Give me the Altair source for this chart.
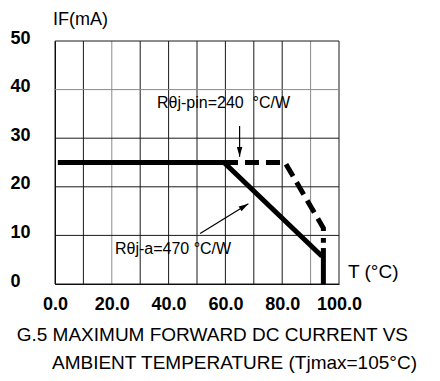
import math
import altair as alt
import pandas as pd

# ---- data ----
temp_ticks = [0, 10, 20, 30, 40, 50, 60, 70, 80, 90, 100]
current_ticks = [0, 10, 20, 30, 40, 50]
light_temp_lines = [20, 90]
light_current_lines = [40]

# R theta j-a = 470 C/W (solid)
solid_x = [1, 59.5, 94]
solid_y = [25, 25, 5.7]
solid_drop_x = [94.5, 94.5]
solid_drop_y = [7.4, 0]

# R theta j-pin = 240 C/W (dashed)
dash_x = [59.5, 81, 94.5, 94.5]
dash_y = [25, 25, 11.5, 8.5]

# annotation arrows: shaft start -> tip
arrow_name = ["pin", "a"]
arrow_x0 = [65, 51.1]
arrow_y0 = [32.5, 10.4]
arrow_x1 = [65, 68.1]
arrow_y1 = [26.2, 16.5]

ann_text = ["R\u03b8j-pin=240\u00a0 \u00b0C/W", "R\u03b8j-a=470\u00a0\u00b0C/W"]
ann_x = [35.9, 21.1]
ann_y = [37.2, 7.2]

y_title = "IF(mA)"
x_title = "T (\u00b0C)"
caption1 = "G.5 MAXIMUM FORWARD DC CURRENT VS"
caption2 = "AMBIENT TEMPERATURE (Tjmax=105\u00b0C)"

W, H = 284, 243
FONT = "Liberation Sans"

xs = alt.Scale(domain=[0, 100], nice=False, zero=False)
ys = alt.Scale(domain=[0, 50], nice=False, zero=False)

x_axis = alt.Axis(
    values=temp_ticks,
    labelExpr="datum.value % 20 == 0 ? format(datum.value, '.1f') : ''",
    title=None, grid=False,
    ticks=False, domainColor="black", domainWidth=1,
    labelFont=FONT, labelFontSize=18, labelFontWeight="bold", labelColor="black",
    labelPadding=11, labelOverlap=False, labelFlush=False,
)
y_axis = alt.Axis(
    values=current_ticks, format="d",
    title=None, grid=False,
    ticks=False, domainColor="black", domainWidth=1,
    labelFont=FONT, labelFontSize=18, labelFontWeight="bold", labelColor="black",
    labelAlign="left", labelBaseline="middle", labelPadding=45, labelOffset=-3,
    labelOverlap=False, labelFlush=False,
)

solid_df = pd.DataFrame({"x": solid_x, "y": solid_y, "o": range(len(solid_x))})
drop_df = pd.DataFrame({"x": solid_drop_x, "y": solid_drop_y, "o": range(len(solid_drop_x))})
dash_df = pd.DataFrame({"x": dash_x, "y": dash_y, "o": range(len(dash_x))})

# grid lines
vgrid_df = pd.DataFrame({"x": temp_ticks,
                         "c": ["light" if v in light_temp_lines else "dark" for v in temp_ticks]})
hgrid_df = pd.DataFrame({"y": current_ticks,
                         "c": ["light" if v in light_current_lines else "dark" for v in current_ticks]})
gcolor = alt.Color("c:N", scale=alt.Scale(domain=["dark", "light"], range=["#1a1a1a", "#8a8a8a"]),
                   legend=None)
vgrid = alt.Chart(vgrid_df).mark_rule(strokeWidth=1).encode(
    x=alt.X("x:Q", scale=xs, axis=x_axis), color=gcolor)
hgrid = alt.Chart(hgrid_df).mark_rule(strokeWidth=1).encode(
    y=alt.Y("y:Q", scale=ys, axis=y_axis), color=gcolor)

dashed = alt.Chart(dash_df).mark_line(
    color="black", strokeWidth=5, strokeDash=[14, 7], strokeCap="butt", strokeJoin="miter"
).encode(x=alt.X("x:Q", scale=xs), y=alt.Y("y:Q", scale=ys), order="o:Q")

solid = alt.Chart(solid_df).mark_line(
    color="black", strokeWidth=5, strokeCap="butt", strokeJoin="miter"
).encode(x=alt.X("x:Q", scale=xs), y=alt.Y("y:Q", scale=ys), order="o:Q")

drop = alt.Chart(drop_df).mark_line(
    color="black", strokeWidth=5, strokeCap="butt"
).encode(x=alt.X("x:Q", scale=xs), y=alt.Y("y:Q", scale=ys), order="o:Q")

# arrow shafts
arr_df = pd.DataFrame({"name": arrow_name, "x0": arrow_x0, "y0": arrow_y0,
                       "x1": arrow_x1, "y1": arrow_y1})
shafts = alt.Chart(arr_df).mark_rule(color="black", strokeWidth=1.2).encode(
    x=alt.X("x0:Q", scale=xs), y=alt.Y("y0:Q", scale=ys), x2="x1:Q", y2="y1:Q"
)

# arrow heads (rotation follows shaft direction in pixel space)
px_x = W / 100.0
px_y = H / 50.0
heads = []
for i in range(len(arrow_name)):
    dx = (arrow_x1[i] - arrow_x0[i]) * px_x
    dy = -(arrow_y1[i] - arrow_y0[i]) * px_y
    ang = math.degrees(math.atan2(dx, -dy)) % 360
    hd = pd.DataFrame({"x": [arrow_x1[i]], "y": [arrow_y1[i]]})
    heads.append(
        alt.Chart(hd).mark_point(
            shape="M0,0 L-0.28,1 L0.28,1 Z", size=380, filled=True, color="black",
            opacity=1, angle=ang, strokeWidth=0,
        ).encode(x=alt.X("x:Q", scale=xs), y=alt.Y("y:Q", scale=ys))
    )

ann_df = pd.DataFrame({"t": ann_text, "x": ann_x, "y": ann_y})
ann = alt.Chart(ann_df).mark_text(
    align="left", baseline="middle", font=FONT, fontSize=16, color="black"
).encode(x=alt.X("x:Q", scale=xs), y=alt.Y("y:Q", scale=ys), text="t:N")

def label(txt, px, py, size, align="left", weight="normal"):
    df = pd.DataFrame({"t": [txt]})
    return alt.Chart(df).mark_text(
        align=align, baseline="middle", font=FONT, fontSize=size,
        fontWeight=weight, color="black",
    ).encode(x=alt.value(px), y=alt.value(py), text="t:N")

ytitle = label(y_title, -2, -21, 18)
xtitle = label(x_title, 293, 231, 19)
cap1 = label(caption1, 353, 294, 19, align="right")
cap2 = label(caption2, -3, 322, 19, align="left")

chart = alt.layer(
    vgrid, hgrid, dashed, solid, drop, shafts, *heads, ann, ytitle, xtitle, cap1, cap2
).properties(
    width=W, height=H,
    autosize=alt.AutoSizeParams(type="none"),
    padding={"left": 47, "top": 33, "right": 93, "bottom": 89},
).configure_view(stroke=None)

chart.save("out.html", embed_options={"renderer": "svg", "actions": False})
